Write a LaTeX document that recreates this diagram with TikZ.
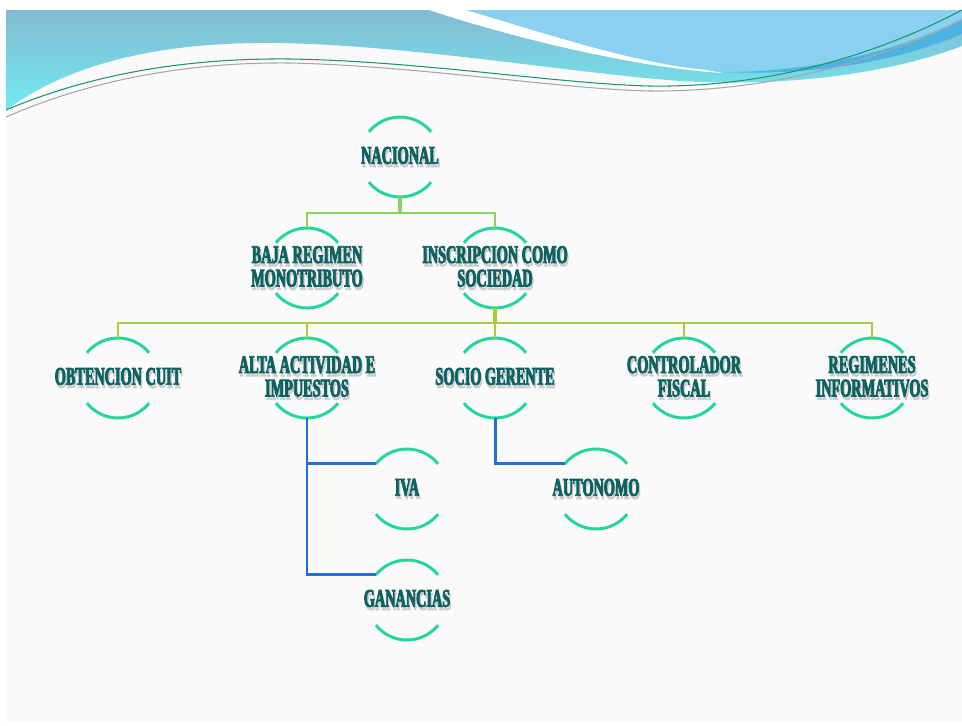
\documentclass[tikz,border=0pt]{standalone}
\usepackage{fontspec}
\newfontfamily\boxfont{Liberation Serif Bold}[FakeStretch=0.56,FakeBold=3]
\definecolor{arcgreen}{RGB}{38,214,152}
\definecolor{busgreen}{RGB}{140,210,92}
\definecolor{busyellow}{RGB}{166,204,64}
\definecolor{linkblue}{RGB}{30,112,214}
\definecolor{labeltext}{RGB}{14,98,98}
\definecolor{slidebg}{RGB}{250,250,250}
\definecolor{bandtop}{RGB}{132,186,208}
\definecolor{bandbot}{RGB}{112,234,242}
\definecolor{skyblue}{RGB}{138,208,240}
\definecolor{streakblue}{RGB}{76,178,226}
\newcommand\sh[1]{\makebox[0pt][l]{\hspace{0.7pt}\raisebox{-1.8pt}{\textcolor{black!20}{#1}}}#1}
\def\ringr{0.8cm}
\tikzset{
  box/.style={inner sep=0pt, align=center, text=labeltext,
    font=\boxfont\fontsize{14.5}{13.4}\selectfont},
  ring/.style={draw=arcgreen, line width=1.7pt},
  stem/.style={line width=2.6pt},
  busup/.style={draw=busgreen, line width=1.4pt},
  buslow/.style={draw=busyellow, line width=1.4pt},
  link/.style={draw=linkblue, line width=1.7pt}
}
\begin{document}
\begin{tikzpicture}[x=0.02cm,y=0.02cm]
                \useasboundingbox (0,0) rectangle (962,-725);
                % slide and header
                \fill[white] (0,0) rectangle (962,-725);
                \fill[slidebg] (6,-10) rectangle (962,-722);
                \shade[top color=bandtop, bottom color=bandbot] (6,-10) -- (6,-110) .. controls (80,-56) and (180,-42) .. (276,-43) .. controls (420,-45) and (600,-78) .. (700,-82) .. controls (820,-86) and (910,-66) .. (962,-46) -- (962,-10) -- cycle;
                \fill[white] (429,-10) .. controls (520,-40) and (640,-68) .. (723,-73) .. controls (650,-60) and (550,-32) .. (466,-10) -- cycle;
                \fill[skyblue] (466,-10) .. controls (560,-38) and (650,-68) .. (723,-71) .. controls (820,-72) and (910,-45) .. (962,-18) -- (962,-10) -- cycle;
                \fill[streakblue] (723,-72) .. controls (820,-73) and (910,-46) .. (962,-20) -- (962,-34) .. controls (900,-60) and (820,-76) .. (723,-72) -- cycle;
                \draw[arcgreen!70!black, line width=0.6pt] (6,-110) .. controls (100,-70) and (200,-58) .. (290,-59) .. controls (420,-61) and (560,-84) .. (650,-86) .. controls (780,-88) and (890,-48) .. (962,-10);
                \draw[black!35, line width=0.6pt] (6,-117) .. controls (100,-76) and (200,-62) .. (290,-63) .. controls (420,-66) and (560,-89) .. (650,-91) .. controls (780,-92) and (890,-55) .. (962,-20);

                \node[box] (nac) at (400,-157) {\sh{NACIONAL}};
                \node[box] (baja) at (307,-268) {\sh{BAJA REGIMEN}\\\sh{MONOTRIBUTO}};
                \node[box] (insc) at (495,-268) {\sh{INSCRIPCION COMO}\\\sh{SOCIEDAD}};
                \node[box] (cuit) at (118,-378) {\sh{OBTENCION CUIT}};
                \node[box] (alta) at (307,-378) {\sh{ALTA ACTIVIDAD E}\\\sh{IMPUESTOS}};
                \node[box] (socio) at (495,-378) {\sh{SOCIO GERENTE}};
                \node[box] (ctrl) at (684,-378) {\sh{CONTROLADOR}\\\sh{FISCAL}};
                \node[box] (regi) at (872,-378) {\sh{REGIMENES}\\\sh{INFORMATIVOS}};
                \node[box] (iva) at (407,-489) {\sh{IVA}};
                \node[box] (gan) at (407,-600) {\sh{GANANCIAS}};
                \node[box] (auto) at (596,-489) {\sh{AUTONOMO}};

                \foreach \n in {nac,baja,insc,cuit,alta,socio,ctrl,regi,iva,gan,auto}
                    \draw[ring] ([shift={(39:\ringr)}]\n.center) arc[start angle=39, end angle=141, radius=\ringr]
                                ([shift={(219:\ringr)}]\n.center) arc[start angle=219, end angle=321, radius=\ringr];

                \draw[stem, busgreen] ([yshift=-\ringr]nac.center) -- ++(0,-16) coordinate (nacjoin);
                \draw[busup] ([yshift=\ringr]baja.center) |- (nacjoin) -| ([yshift=\ringr]insc.center);

                \draw[stem, busyellow] ([yshift=-\ringr]insc.center) -- ++(0,-15) coordinate (inscjoin);
                \draw[buslow] ([yshift=\ringr]cuit.center) |- (inscjoin) -| ([yshift=\ringr]regi.center);
                \foreach \n in {alta,socio,ctrl}
                    \draw[buslow] (inscjoin -| \n.center) -- ([yshift=\ringr]\n.center);

                \draw[link] ([yshift=-\ringr]alta.center) |- ([shift={(141:\ringr)}]iva.center);
                \draw[link] ([yshift=-\ringr]alta.center) |- ([shift={(141:\ringr)}]gan.center);
                \draw[link] ([yshift=-\ringr]socio.center) |- ([shift={(141:\ringr)}]auto.center);

            \end{tikzpicture}
\end{document}
